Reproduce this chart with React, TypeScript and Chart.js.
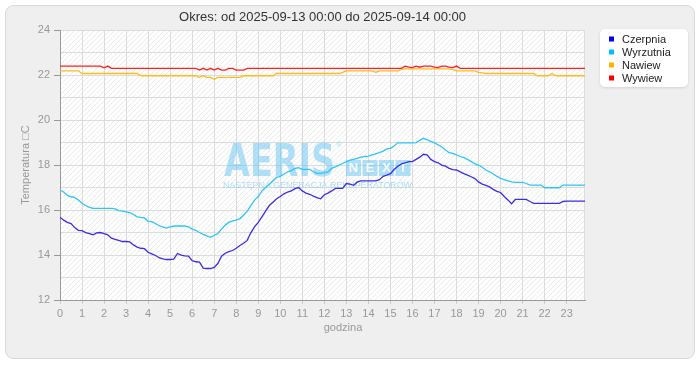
import React, { useEffect, useRef } from 'react';
import { Chart, registerables } from 'chart.js';

Chart.register(...registerables);

const TITLE = 'Okres: od 2025-09-13 00:00 do 2025-09-14 00:00';
const Y_TITLE = 'Temperatura \u25A1C';
const X_TITLE = 'godzina';
const SERIES_NAMES = ['Czerpnia', 'Wyrzutnia', 'Nawiew', 'Wywiew'];
const LEGEND_COLORS = ['#0000ff', '#00bfff', '#ffb400', '#ff0000'];
const LINE_COLORS = ['#3b2ee6', '#2ec5f7', '#ffbb1c', '#ff2020'];
const STEP_MINUTES = 10;
const Y_MIN = 12;
const Y_MAX = 24;

const czerpnia = [
  15.68, 15.55, 15.45, 15.40, 15.22, 15.10,
  15.08, 15.00, 14.95, 14.90, 14.98, 15.00,
  14.95, 14.90, 14.75, 14.70, 14.65, 14.60,
  14.60, 14.58, 14.45, 14.35, 14.30, 14.28,
  14.12, 14.05, 13.98, 13.88, 13.83, 13.80,
  13.80, 13.82, 14.07, 14.00, 13.96, 13.95,
  13.75, 13.70, 13.68, 13.42, 13.40, 13.40,
  13.45, 13.62, 13.95, 14.08, 14.15, 14.20,
  14.30, 14.42, 14.52, 14.65, 15.00, 15.25,
  15.45, 15.70, 15.95, 16.20, 16.35, 16.50,
  16.60, 16.72, 16.80, 16.85, 16.95, 17.00,
  16.85, 16.75, 16.70, 16.62, 16.55, 16.50,
  16.68, 16.75, 16.85, 16.96, 16.96, 16.96,
  17.18, 17.15, 17.10, 17.25, 17.30, 17.30,
  17.30, 17.30, 17.30, 17.35, 17.50, 17.55,
  17.62, 17.80, 17.95, 18.05, 18.10, 18.15,
  18.15, 18.25, 18.35, 18.48, 18.45, 18.25,
  18.15, 18.10, 18.00, 17.95, 17.85, 17.80,
  17.78, 17.70, 17.62, 17.55, 17.48, 17.40,
  17.25, 17.15, 17.10, 17.03, 16.92, 16.83,
  16.78, 16.60, 16.45, 16.28, 16.47, 16.47,
  16.47, 16.47, 16.38, 16.30, 16.30, 16.30,
  16.30, 16.30, 16.30, 16.30, 16.30, 16.38,
  16.40, 16.40, 16.40, 16.40, 16.40, 16.40,
];

const wyrzutnia = [
  16.89, 16.80, 16.65, 16.59, 16.56, 16.45,
  16.30, 16.20, 16.12, 16.07, 16.07, 16.07,
  16.07, 16.07, 16.07, 16.05, 15.97, 15.95,
  15.92, 15.88, 15.80, 15.70, 15.67, 15.65,
  15.50, 15.48, 15.40, 15.30, 15.25, 15.20,
  15.25, 15.29, 15.29, 15.29, 15.29, 15.25,
  15.15, 15.10, 15.00, 14.92, 14.85, 14.79,
  14.88, 14.95, 15.15, 15.33, 15.45, 15.52,
  15.55, 15.62, 15.78, 15.95, 16.20, 16.44,
  16.60, 16.85, 17.00, 17.15, 17.30, 17.45,
  17.50, 17.60, 17.70, 17.75, 17.85, 17.88,
  17.81, 17.81, 17.81, 17.70, 17.63, 17.63,
  17.66, 17.70, 17.85, 17.92, 18.00, 18.07,
  18.15, 18.22, 18.25, 18.30, 18.35, 18.38,
  18.40, 18.45, 18.50, 18.55, 18.62, 18.72,
  18.74, 18.85, 18.99, 18.99, 18.99, 18.99,
  18.99, 19.00, 19.10, 19.19, 19.12, 19.05,
  18.99, 18.90, 18.80, 18.67, 18.55, 18.52,
  18.45, 18.38, 18.33, 18.25, 18.15, 18.05,
  18.00, 17.90, 17.78, 17.70, 17.60, 17.50,
  17.41, 17.35, 17.30, 17.25, 17.23, 17.23,
  17.23, 17.18, 17.11, 17.11, 17.11, 17.11,
  16.99, 16.99, 16.99, 16.99, 16.99, 17.11,
  17.11, 17.11, 17.11, 17.11, 17.11, 17.11,
];

const nawiew = [
  22.19, 22.19, 22.19, 22.19, 22.19, 22.19,
  22.07, 22.07, 22.07, 22.07, 22.07, 22.07,
  22.07, 22.07, 22.07, 22.07, 22.07, 22.07,
  22.07, 22.07, 22.07, 22.07, 21.97, 21.97,
  21.97, 21.97, 21.97, 21.97, 21.97, 21.97,
  21.97, 21.97, 21.97, 21.97, 21.97, 21.97,
  21.97, 21.97, 21.90, 21.97, 21.90, 21.90,
  21.81, 21.90, 21.90, 21.90, 21.90, 21.90,
  21.90, 21.90, 21.97, 21.97, 21.97, 21.97,
  21.97, 21.97, 21.97, 21.97, 21.97, 22.07,
  22.07, 22.07, 22.07, 22.07, 22.07, 22.07,
  22.07, 22.07, 22.07, 22.07, 22.07, 22.07,
  22.07, 22.07, 22.07, 22.07, 22.07, 22.12,
  22.19, 22.19, 22.19, 22.19, 22.19, 22.19,
  22.19, 22.19, 22.12, 22.19, 22.19, 22.19,
  22.19, 22.19, 22.19, 22.25, 22.28, 22.28,
  22.28, 22.28, 22.28, 22.28, 22.28, 22.28,
  22.28, 22.28, 22.28, 22.28, 22.28, 22.25,
  22.19, 22.19, 22.19, 22.19, 22.19, 22.19,
  22.12, 22.10, 22.07, 22.07, 22.07, 22.07,
  22.07, 22.07, 22.07, 22.07, 22.07, 22.07,
  22.07, 22.07, 22.07, 22.07, 21.97, 21.97,
  21.97, 21.97, 22.07, 21.97, 21.97, 21.97,
  21.97, 21.97, 21.97, 21.97, 21.97, 21.97,
];

const wywiew = [
  22.40, 22.40, 22.40, 22.40, 22.40, 22.40,
  22.40, 22.40, 22.40, 22.40, 22.40, 22.40,
  22.32, 22.40, 22.30, 22.30, 22.30, 22.30,
  22.30, 22.30, 22.30, 22.30, 22.30, 22.30,
  22.30, 22.30, 22.30, 22.30, 22.30, 22.30,
  22.30, 22.30, 22.30, 22.30, 22.30, 22.30,
  22.30, 22.30, 22.22, 22.30, 22.22, 22.30,
  22.22, 22.30, 22.22, 22.22, 22.30, 22.30,
  22.22, 22.22, 22.22, 22.30, 22.30, 22.30,
  22.30, 22.30, 22.30, 22.30, 22.30, 22.30,
  22.30, 22.30, 22.30, 22.30, 22.30, 22.30,
  22.30, 22.30, 22.30, 22.30, 22.30, 22.30,
  22.30, 22.30, 22.30, 22.30, 22.30, 22.30,
  22.30, 22.30, 22.30, 22.30, 22.30, 22.30,
  22.30, 22.30, 22.30, 22.30, 22.30, 22.30,
  22.30, 22.30, 22.30, 22.30, 22.40, 22.35,
  22.33, 22.40, 22.35, 22.40, 22.40, 22.40,
  22.35, 22.33, 22.40, 22.40, 22.35, 22.33,
  22.40, 22.30, 22.30, 22.30, 22.30, 22.30,
  22.30, 22.30, 22.30, 22.30, 22.30, 22.30,
  22.30, 22.30, 22.30, 22.30, 22.30, 22.30,
  22.30, 22.30, 22.30, 22.30, 22.30, 22.30,
  22.30, 22.30, 22.30, 22.30, 22.30, 22.30,
  22.30, 22.30, 22.30, 22.30, 22.30, 22.30,
];

const SERIES = [czerpnia, wyrzutnia, nawiew, wywiew];
const DRAW_ORDER = [1, 2, 4, 3];
const FONT = '"Liberation Sans", Arial, sans-serif';

const backgroundPlugin = {
  id: 'panelBackground',
  beforeDraw(chart: any) {
    const { ctx, width, height, chartArea: a } = chart;
    ctx.save();
    ctx.fillStyle = '#ffffff';
    ctx.fillRect(0, 0, width, height);
    ctx.beginPath();
    ctx.roundRect(5.5, 5.5, width - 11, 353, 8);
    ctx.fillStyle = '#efefef';
    ctx.fill();
    ctx.strokeStyle = '#d9d9d9';
    ctx.lineWidth = 1;
    ctx.stroke();
    ctx.fillStyle = '#ffffff';
    ctx.fillRect(a.left, a.top, a.right - a.left, a.bottom - a.top);
    ctx.beginPath();
    ctx.rect(a.left, a.top, a.right - a.left, a.bottom - a.top);
    ctx.clip();
    ctx.strokeStyle = '#ebebeb';
    ctx.lineWidth = 1;
    const h = a.bottom - a.top;
    ctx.beginPath();
    for (let k = -h; k < a.right - a.left + 5; k += 5) {
      ctx.moveTo(a.left + k, a.bottom);
      ctx.lineTo(a.left + k + h, a.top);
    }
    ctx.stroke();
    ctx.restore();
  },
};

const watermarkPlugin = {
  id: 'watermark',
  beforeDatasetsDraw(chart: any) {
    const { ctx, chartArea: a } = chart;
    ctx.save();
    ctx.strokeStyle = '#dcdcdc';
    ctx.beginPath();
    ctx.moveTo(Math.round(a.right) - 0.5, a.top);
    ctx.lineTo(Math.round(a.right) - 0.5, a.bottom);
    ctx.stroke();

    const col = 'rgba(100, 195, 242, 0.5)';
    ctx.fillStyle = col;
    ctx.font = `bold 45px "DejaVu Sans", ${FONT}`;
    ctx.textBaseline = 'alphabetic';
    ctx.textAlign = 'left';
    const w = ctx.measureText('AERIS').width;
    ctx.save();
    ctx.translate(224, 176);
    ctx.scale(111 / w, 1);
    ctx.fillText('AERIS', 0, 0);
    ctx.restore();
    ctx.font = `8px ${FONT}`;
    ctx.fillText('\u00AE', 336, 147);
    const letters = ['N', 'E', 'X', 'T'];
    const bx = 346;
    const bw = 15;
    for (let i = 0; i < 4; i++) {
      ctx.fillStyle = col;
      ctx.fillRect(bx + i * (bw + 1.5), 160, bw, 16);
    }
    ctx.font = `bold 13px ${FONT}`;
    ctx.textAlign = 'center';
    ctx.textBaseline = 'middle';
    ctx.fillStyle = 'rgba(255,255,255,0.85)';
    for (let i = 0; i < 4; i++) {
      ctx.fillText(letters[i], bx + i * (bw + 1.5) + bw / 2, 168.5);
    }
    ctx.fillStyle = col;
    ctx.textAlign = 'left';
    ctx.textBaseline = 'alphabetic';
    ctx.font = `9px ${FONT}`;
    ctx.fillText('NAST\u0118PNA GENERACJA REKUPERATOR\u00D3W', 223, 188, 189);
    ctx.restore();
  },
};

const overlayPlugin = {
  id: 'overlay',
  afterDraw(chart: any) {
    const { ctx } = chart;
    ctx.save();
    ctx.font = `11px ${FONT}`;
    ctx.fillStyle = '#999999';
    ctx.textAlign = 'center';
    ctx.textBaseline = 'middle';
    ctx.fillText(X_TITLE, 343, 328);
    ctx.shadowColor = 'rgba(0,0,0,0.12)';
    ctx.shadowBlur = 3;
    ctx.shadowOffsetY = 1;
    ctx.beginPath();
    ctx.roundRect(600, 29, 88, 58, 5);
    ctx.fillStyle = '#ffffff';
    ctx.fill();
    ctx.shadowColor = 'transparent';
    ctx.textAlign = 'left';
    ctx.font = `11px ${FONT}`;
    SERIES_NAMES.forEach((name, i) => {
      const y = 39 + i * 13;
      ctx.fillStyle = LEGEND_COLORS[i];
      ctx.fillRect(609, y - 2.5, 5, 5);
      ctx.fillStyle = '#222222';
      ctx.fillText(name, 622, y + 0.5);
    });
    ctx.restore();
  },
};

export default function App() {
  const ref = useRef<HTMLCanvasElement | null>(null);
  useEffect(() => {
    if (!ref.current) return;
    Chart.defaults.font.family = FONT;
    const hours = czerpnia.map((_, i) => (i * STEP_MINUTES) / 60);
    const chart = new Chart(ref.current, {
      type: 'line',
      data: {
        datasets: SERIES.map((vals, s) => ({
          label: SERIES_NAMES[s],
          data: vals.map((v, i) => ({ x: hours[i], y: v })),
          borderColor: LINE_COLORS[s],
          backgroundColor: LEGEND_COLORS[s],
          borderWidth: 1.3,
          pointRadius: 0,
          tension: 0,
          fill: false,
          order: DRAW_ORDER[s],
        })),
      },
      options: {
        responsive: false,
        animation: false,
        layout: { padding: { left: 0, right: 115, top: 0, bottom: 0 } },
        plugins: {
          legend: { display: false },
          tooltip: { enabled: false },
          title: {
            display: true,
            text: TITLE,
            color: '#333333',
            font: { size: 13, weight: 'normal' },
            padding: { top: 9.5, bottom: 5 },
            fullSize: false,
          },
        },
        scales: {
          x: {
            type: 'linear',
            min: 0,
            max: hours[hours.length - 1],
            ticks: {
              stepSize: 1,
              includeBounds: false,
              autoSkip: false,
              maxRotation: 0,
              color: '#999999',
              font: { size: 11 },
              padding: 3,
            },
            grid: { color: '#dcdcdc', tickLength: 4, tickColor: '#cccccc' },
            border: { color: '#999999' },
            afterFit: (s: any) => {
              s.height = 80;
            },
          },
          y: {
            min: Y_MIN,
            max: Y_MAX,
            ticks: {
              stepSize: 1,
              autoSkip: false,
              color: '#999999',
              font: { size: 11 },
              padding: 4,
              callback: (v: any) => (Number(v) % 2 === 0 ? String(v) : ''),
            },
            grid: {
              color: '#dcdcdc',
              tickLength: 6,
              tickColor: (c: any) => (c.tick && c.tick.value % 2 === 0 ? '#999999' : 'rgba(0,0,0,0)'),
            },
            border: { color: '#999999' },
            title: {
              display: true,
              text: Y_TITLE,
              color: '#999999',
              font: { size: 11 },
              padding: { top: 19, bottom: 0 },
            },
            afterFit: (s: any) => {
              s.width = 60;
            },
          },
        },
      },
      plugins: [backgroundPlugin, watermarkPlugin, overlayPlugin],
    } as any);
    return () => chart.destroy();
  }, []);
  return (
    <div style={{ position: 'absolute', left: 0, top: 0, width: 700, height: 380, background: '#fff' }}>
      <canvas ref={ref} width={700} height={380} style={{ display: 'block', width: 700, height: 380 }} />
    </div>
  );
}
